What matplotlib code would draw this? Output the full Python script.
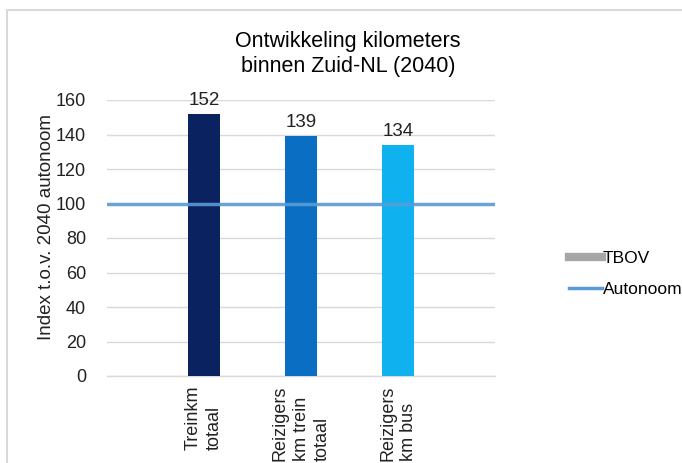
import matplotlib.pyplot as plt
from matplotlib.patches import Rectangle
from matplotlib.lines import Line2D

plt.rcParams["font.family"] = ["Liberation Sans", "DejaVu Sans"]

# Index values per category (2040, autonoom = 100)
categories = ["Treinkm\ntotaal", "Reizigers\nkm trein\ntotaal", "Reizigers\nkm bus"]
tbov = [152, 139, 134]
autonoom = 100
bar_colors = ["#0b2260", "#0a6fc2", "#0fb2ef"]

fig = plt.figure(figsize=(6.82, 4.63), dpi=100)
fig.patches.append(Rectangle((7 / 682, -0.1), 1.2, 1 - 10 / 463 + 0.1,
                             transform=fig.transFigure, fill=False,
                             edgecolor="#d9d9d9", linewidth=1.5))
ax = fig.add_axes([107 / 682, 1 - 376 / 463, 388 / 682, 276 / 463])

x = range(1, len(categories) + 1)
ax.bar(x, tbov, width=0.33, color=bar_colors, zorder=2)
ax.axhline(autonoom, color="#5b9bd5", linewidth=2.5, alpha=0.9, zorder=3)
ax.axhline(0, color="#d9d9d9", linewidth=1, zorder=1, clip_on=False)
for xi, v in zip(x, tbov):
    ax.text(xi, v + 3, str(v), ha="center", va="bottom", fontsize=13.5, color="#222222")

ax.set_xlim(0, 4)
ax.set_ylim(0, 160)
ax.set_yticks(range(0, 161, 20))
ax.set_xticks(list(x))
ax.set_xticklabels(categories, rotation=90, va="top", ha="center", fontsize=13,
                   multialignment="left", linespacing=1.3)
ax.tick_params(axis="y", labelsize=13, length=0, pad=15, colors="#222222")
ax.tick_params(axis="x", length=0, pad=7, colors="#222222")
ax.grid(axis="y", color="#d9d9d9", linewidth=1, zorder=0)
for s in ["top", "right", "left", "bottom"]:
    ax.spines[s].set_visible(False)
ax.set_ylabel("Index t.o.v. 2040 autonoom", fontsize=13.5, color="#222222")
ax.yaxis.set_label_coords(-0.135, 0.54)

fig.text(348 / 682, 1 - 54 / 463, "Ontwikkeling kilometers\nbinnen Zuid-NL (2040)",
         ha="center", va="center", fontsize=15.5, linespacing=1.25)

handles = [Line2D([0], [0], color="#a6a6a6", linewidth=6),
           Line2D([0], [0], color="#5b9bd5", linewidth=2.5)]
fig.legend(handles, ["TBOV", "Autonoom"], loc="center left",
           bbox_to_anchor=(553 / 682, 1 - 274 / 463), frameon=False,
           fontsize=12.5, handlelength=1.9, handletextpad=0.05, labelspacing=0.95)

fig.savefig("out.png", dpi=100)
